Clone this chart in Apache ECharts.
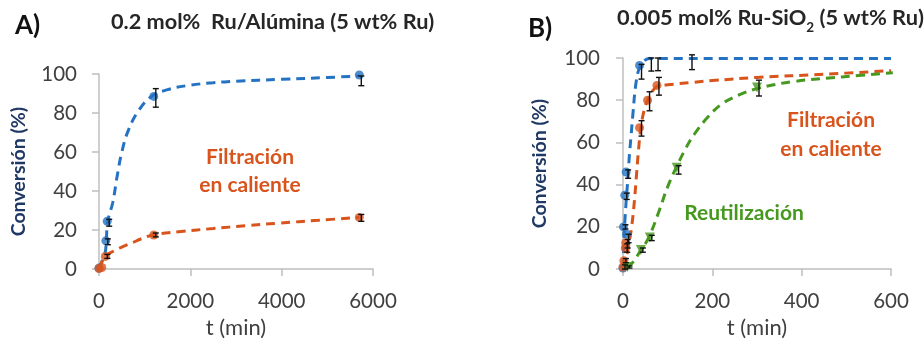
<!DOCTYPE html>
<html><head><meta charset="utf-8">
<script src="https://cdn.jsdelivr.net/npm/echarts@6/dist/echarts.min.js"></script>
<style>html,body{margin:0;padding:0;background:#fff}#c{width:924px;height:344px}</style>
</head><body><div id="c"></div>
<script>
// ---------- Panel A: 0.2 mol% Ru/Alúmina ----------
const aXTicks = [0, 2000, 4000, 6000];
const aYTicks = [0, 20, 40, 60, 80, 100];
const aBlueT = [0, 150, 180, 1200, 5700];
const aBlueY = [0.5, 14.5, 24.5, 88.5, 99.5];
const aBlueLo = [0, 12.5, 22, 83, 94];
const aBlueHi = [0, 15.5, 25.5, 92.5, 99];
const aOrangeT = [0, 60, 140, 1200, 5700];
const aOrangeY = [0.3, 0.8, 6.5, 17.5, 26.5];
const aOrangeLo = [0, 0, 5.5, 16.5, 24.5];
const aOrangeHi = [0, 0, 7.5, 18.5, 28];
// dashed trend curves
const aBlueFitT = [0, 130, 160, 190, 300, 400, 500, 640, 860, 1150, 1500, 2000, 2500, 3000, 4000, 5000, 5700];
const aBlueFitY = [0.5, 8, 14.6, 24.4, 34, 48, 60, 71, 81, 88.5, 92, 94.3, 95.5, 96.3, 97.3, 98.2, 99];
const aOrangeFitT = [0, 131, 350, 500, 750, 900, 1190, 1800, 2500, 3200, 3960, 4800, 5700];
const aOrangeFitY = [0.3, 6.4, 9.6, 11.3, 13.7, 15.3, 17.5, 19.3, 20.8, 22.2, 23.6, 25, 26.5];

// ---------- Panel B: 0.005 mol% Ru-SiO2 ----------
const bXTicks = [0, 200, 400, 600];
const bYTicks = [0, 20, 40, 60, 80, 100];
const bBlueT = [0, 1, 4, 7, 8, 37, 59, 74, 150];
const bBlueY = [0.5, 20, 35, 46, 16.5, 96.5, 100.5, 100.5, 101.2];
const bBlueLo = [0, 19, 33, 43, 12.5, 90, 93.8, 94, 94.5];
const bBlueHi = [0, 21, 36, 47, 16.5, 97, 100, 100, 101.5];
const bOrangeT = [0, 2, 5, 6, 37, 55, 76];
const bOrangeY = [1, 4, 10, 12.5, 67, 80, 87];
const bOrangeLo = [0, 3, 8, 10, 63, 75, 82.4];
const bOrangeHi = [2, 5, 12, 14, 70.3, 84, 90.8];
const bGreenT = [10, 40, 60, 120, 300];
const bGreenY = [1, 9, 15, 48, 86];
const bGreenLo = [0.5, 8, 13.5, 45, 82];
const bGreenHi = [1.5, 10, 16, 49, 89.5];
const bBlueFitT = [0, 3, 7, 11, 14, 18, 22, 29, 37, 48, 60, 600];
const bBlueFitY = [0.5, 18, 32, 43, 53, 63, 73, 88, 95.5, 98.8, 99.8, 99.8];
const bOrangeFitT = [0, 5, 10, 15, 20, 25, 30, 35, 40, 47, 55, 65, 76, 100, 150, 200, 300, 450, 600];
const bOrangeFitY = [0.5, 3, 8, 14, 21, 31, 44, 57, 67, 75, 80, 84, 86.5, 87.3, 88.3, 89.3, 90.8, 92.3, 94];
const bGreenFitT = [10, 25, 40, 50, 60, 80, 100, 120, 140, 160, 190, 220, 260, 300, 380, 490, 604];
const bGreenFitY = [0.5, 4, 9, 12, 16, 27, 39, 48.5, 57, 64, 72, 78, 82.5, 85.5, 88.8, 91, 93];

const BLUE = '#2473c2', ORANGE = '#d9541c', GREEN = '#46991e', NAVY = '#1f3864', TXT = '#404040';
const FONT = 'Lato';

const zip = (t, y) => t.map((v, i) => [v, y[i]]);
const zip3 = (t, lo, hi) => t.map((v, i) => [v, lo[i], hi[i]]);

function axisX(ticks, gi) {
  return {
    gridIndex: gi, type: 'value', min: ticks[0], max: ticks[ticks.length - 1],
    interval: ticks[1] - ticks[0],
    name: 't (min)', nameLocation: 'middle', nameGap: 46,
    nameTextStyle: { color: TXT, fontSize: 22, fontFamily: FONT },
    axisLine: { lineStyle: { color: '#bfbfbf', width: 1.5 } },
    axisTick: { show: true, inside: false, length: 7, lineStyle: { color: '#bfbfbf', width: 1.5 } },
    axisLabel: { color: TXT, fontSize: 20.5, fontFamily: FONT, margin: 22, formatter: v => String(v) },
    splitLine: { show: false }
  };
}
function axisY(ticks, gi, gap, margin) {
  return {
    gridIndex: gi, type: 'value', min: ticks[0], max: ticks[ticks.length - 1],
    interval: ticks[1] - ticks[0],
    name: 'Conversión (%)', nameLocation: 'middle', nameGap: gap, nameRotate: 90,
    nameTextStyle: { color: NAVY, fontSize: 19.5, fontWeight: 'bold', fontFamily: FONT },
    axisLine: { show: true, lineStyle: { color: '#bfbfbf', width: 1.5 } },
    axisTick: { show: true, inside: false, length: 7, lineStyle: { color: '#bfbfbf', width: 1.5 } },
    axisLabel: { color: TXT, fontSize: 20.5, fontFamily: FONT, margin: margin, formatter: v => String(v) },
    splitLine: { show: false }
  };
}
function fit(t, y, color, gi) {
  return { type: 'line', xAxisIndex: gi, yAxisIndex: gi, data: zip(t, y), showSymbol: false, symbol: 'none',
    smooth: 0.4, z: 2,
    lineStyle: { color: color, width: 3, type: [9, 6] }, silent: true };
}
function pts(t, y, color, gi, sym, size) {
  return { type: 'scatter', xAxisIndex: gi, yAxisIndex: gi, data: zip(t, y), symbol: sym || 'circle',
    symbolSize: size || 9, symbolRotate: sym === 'triangle' ? 180 : 0,
    itemStyle: { color: color }, z: 4 };
}
function err(t, lo, hi, gi) {
  return { type: 'custom', xAxisIndex: gi, yAxisIndex: gi, data: zip3(t, lo, hi), z: 5, silent: true,
    renderItem: function (params, api) {
      const x = api.value(0);
      const a = api.coord([x, api.value(1)]);
      const b = api.coord([x, api.value(2)]);
      if (Math.abs(a[1] - b[1]) < 1.5) return null;
      const cx = a[0] + 2, w = 3;
      const st = { stroke: '#111', lineWidth: 1.4 };
      return { type: 'group', children: [
        { type: 'line', shape: { x1: cx, y1: a[1], x2: cx, y2: b[1] }, style: st },
        { type: 'line', shape: { x1: cx - w, y1: a[1], x2: cx + w, y2: a[1] }, style: st },
        { type: 'line', shape: { x1: cx - w, y1: b[1], x2: cx + w, y2: b[1] }, style: st }
      ] };
    } };
}

const chart = echarts.init(document.getElementById('c'));
chart.setOption({
  animation: false,
  backgroundColor: '#fff',
  textStyle: { fontFamily: FONT },
  grid: [
    { left: 99, top: 74, width: 274, height: 204 },
    { left: 623, top: 58, width: 268, height: 220 }
  ],
  xAxis: [axisX(aXTicks, 0), axisX(bXTicks, 1)],
  yAxis: [axisY(aYTicks, 0, 70, 22), axisY(bYTicks, 1, 73, 23)],
  series: [
    fit(aBlueFitT, aBlueFitY, BLUE, 0),
    fit(aOrangeFitT, aOrangeFitY, ORANGE, 0),
    pts(aBlueT, aBlueY, BLUE, 0), pts(aOrangeT, aOrangeY, ORANGE, 0),
    err(aBlueT, aBlueLo, aBlueHi, 0), err(aOrangeT, aOrangeLo, aOrangeHi, 0),
    fit(bBlueFitT, bBlueFitY, BLUE, 1),
    fit(bOrangeFitT, bOrangeFitY, ORANGE, 1),
    fit(bGreenFitT, bGreenFitY, GREEN, 1),
    pts(bBlueT, bBlueY, BLUE, 1), pts(bOrangeT, bOrangeY, ORANGE, 1),
    pts(bGreenT, bGreenY, GREEN, 1, 'triangle', 10),
    err(bBlueT, bBlueLo, bBlueHi, 1), err(bOrangeT, bOrangeLo, bOrangeHi, 1), err(bGreenT, bGreenLo, bGreenHi, 1)
  ],
  graphic: [
    { type: 'text', left: 15, top: 13, style: { text: 'A)', fontSize: 26, fontWeight: 'bold', fill: '#111', fontFamily: FONT } },
    { type: 'text', left: 111, top: 11, style: { text: '0.2 mol%  Ru/Alúmina (5 wt% Ru)', fontSize: 21.7, fontWeight: 'bold', fill: '#262626', fontFamily: FONT } },
    { type: 'text', left: 528, top: 16, style: { text: 'B)', fontSize: 26, fontWeight: 'bold', fill: '#111', fontFamily: FONT } },
    { type: 'text', left: 617, top: 7, style: {
        text: '{a|0.005 mol% Ru-SiO}{s|2}{a| (5 wt% Ru)}', fontFamily: FONT,
        rich: { a: { fontSize: 21.8, fontWeight: 'bold', fill: '#262626', fontFamily: FONT, verticalAlign: 'bottom', lineHeight: 28 },
                s: { fontSize: 13.5, fontWeight: 'bold', fill: '#262626', fontFamily: FONT, verticalAlign: 'bottom', lineHeight: 28, padding: [0, 0, -6, 0] } } } },
    { type: 'text', style: { text: 'Filtración\nen caliente', fontSize: 21, fontWeight: 'bold', fill: ORANGE, align: 'center', verticalAlign: 'middle', lineHeight: 28, fontFamily: FONT }, x: 250, y: 171 },
    { type: 'text', style: { text: 'Filtración\nen caliente', fontSize: 21, fontWeight: 'bold', fill: ORANGE, align: 'center', verticalAlign: 'middle', lineHeight: 29, fontFamily: FONT }, x: 831, y: 135 },
    { type: 'text', style: { text: 'Reutilización', fontSize: 21, fontWeight: 'bold', fill: GREEN, align: 'center', verticalAlign: 'middle', fontFamily: FONT }, x: 744, y: 213 }
  ]
});
</script></body></html>
